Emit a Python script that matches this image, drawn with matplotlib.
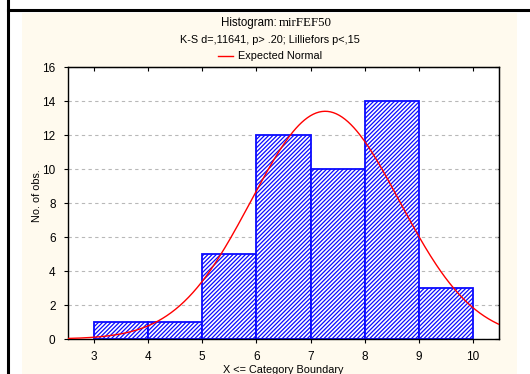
import numpy as np
import matplotlib
matplotlib.use("Agg")
import matplotlib.pyplot as plt
from matplotlib.patches import Rectangle
from matplotlib.lines import Line2D

# data
bin_edges = [3, 4, 5, 6, 7, 8, 9, 10]
counts = [1, 1, 5, 12, 10, 14, 3]
x_ticks = [3, 4, 5, 6, 7, 8, 9, 10]
y_ticks = [0, 2, 4, 6, 8, 10, 12, 14, 16]
n_obs = 46
fit_mean = 7.27
fit_sd = 1.37

title_head = "Histogram:"
title_var = "mirFEF50"
title2 = "K-S d=,11641, p> .20; Lilliefors p<,15"
legend_label = "Expected Normal"
x_label = "X <= Category Boundary"
y_label = "No. of obs."

plt.rcParams["font.family"] = ["Liberation Sans", "DejaVu Sans"]
plt.rcParams["hatch.linewidth"] = 0.9

W, H = 530, 374
fig = plt.figure(figsize=(W / 100, H / 100), dpi=100)
fig.patch.set_facecolor("white")

# cream panel and black frame lines
fig.add_artist(Rectangle((22 / W, 0), (517 - 22) / W, (H - 13) / H,
                         transform=fig.transFigure, facecolor="#fffaee",
                         edgecolor="none", zorder=-10))
fig.add_artist(Line2D([8 / W, 8 / W], [0, 1], transform=fig.transFigure,
                      color="black", lw=2.2))
fig.add_artist(Line2D([8 / W, 1], [1 - 10 / H, 1 - 10 / H],
                      transform=fig.transFigure, color="black", lw=2.2))

ax = fig.add_axes([68 / W, 1 - 339 / H, (499 - 68) / W, (339 - 67) / H])
ax.set_facecolor("white")

widths = np.diff(bin_edges)
ax.bar(bin_edges[:-1], counts, width=widths, align="edge", facecolor="white",
       edgecolor="#0a0aff", hatch="////////", linewidth=1.3, zorder=2)

xs = np.linspace(2.5, 10.5, 300)
ys = n_obs * np.exp(-0.5 * ((xs - fit_mean) / fit_sd) ** 2) / (fit_sd * np.sqrt(2 * np.pi))
ax.plot(xs, ys, color="red", lw=1.0, zorder=3)

ax.set_xlim(2.52, 10.48)
ax.set_ylim(0, 16)
ax.set_xticks(x_ticks)
ax.set_yticks(y_ticks)
ax.yaxis.grid(True, color="#b8b8b8", linestyle=(0, (3, 3)), lw=0.8, zorder=0)
ax.set_axisbelow(True)
ax.tick_params(direction="out", length=3, labelsize=8.5, pad=6)
for s in ax.spines.values():
    s.set_linewidth(1.0)

top = ax.secondary_xaxis("top")
top.set_xticks(x_ticks)
top.tick_params(direction="in", length=3, labeltop=False)
right = ax.secondary_yaxis("right")
right.set_yticks(y_ticks)
right.tick_params(direction="in", length=3, labelright=False)

# title: sans head, serif variable name
fig.text(277 / W, 1 - 23 / H, title_head, ha="right", va="center", fontsize=8.3)
fig.text(279 / W, 1 - 23 / H, title_var, ha="left", va="center", fontsize=9.3,
         family=["Liberation Serif", "DejaVu Serif"])
fig.text(270 / W, 1 - 40 / H, title2, ha="center", va="center", fontsize=7.8)
fig.add_artist(Line2D([218 / W, 233 / W], [1 - 56 / H, 1 - 56 / H],
                      transform=fig.transFigure, color="red", lw=1.0))
fig.text(238 / W, 1 - 56 / H, legend_label, ha="left", va="center", fontsize=7.8)
fig.text(37 / W, 1 - 196 / H, y_label, ha="center", va="center",
         rotation=90, fontsize=7.8)
fig.text(283 / W, 1 - 370 / H, x_label, ha="center", va="center", fontsize=7.8)

fig.savefig("out.png", dpi=100)
